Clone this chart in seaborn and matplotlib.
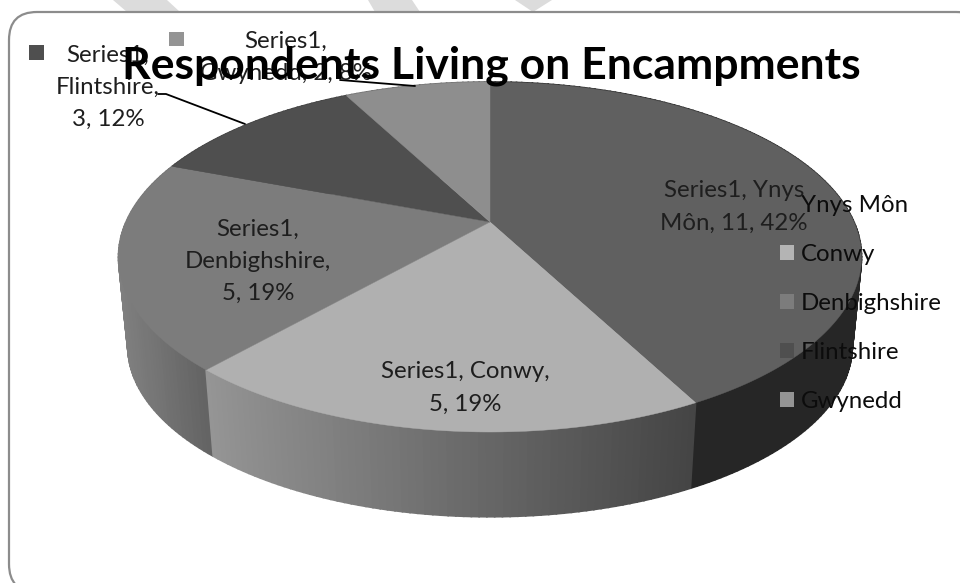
import numpy as np
import matplotlib
matplotlib.use('Agg')
import matplotlib.pyplot as plt
import seaborn as sns
from matplotlib.colors import to_rgb
from matplotlib.patches import FancyBboxPatch, Patch

counties = ['Ynys Môn', 'Conwy', 'Denbighshire', 'Flintshire', 'Gwynedd']
respondents = [11, 5, 5, 3, 2]
percent_labels = ['42%', '19%', '19%', '12%', '8%']
series_name = 'Series1'
title = 'Respondents Living on Encampments'

top_colours = ['#606060', '#b0b0b0', '#7c7c7c', '#4f4f4f', '#8e8e8e']
legend_colours = ['#606060', '#b4b4b4', '#7c7c7c', '#4f4f4f', '#949494']
wall_left = ['#262626', '#959595', '#808080', '#404040', '#6a6a6a']
wall_right = ['#262626', '#444444', '#636363', '#404040', '#6a6a6a']

CX, CY = 490, 222
TEXT = '#1e1e1e'
FONT_SIZE = 17.3

sns.set_theme(style='white')
plt.rcParams['font.family'] = ['Lato', 'DejaVu Sans']


def project(theta, scale=1.0, drop=0.0):
    # pie angle (deg) to pixels, the disc is tilted with some perspective
    rad = np.radians(theta)
    d = 1 + 0.2 * np.sin(rad)
    x = CX + scale * 364 * np.cos(rad) / d
    y = CY - scale * 168 * np.sin(rad) / d + drop
    return x, y


fig, ax = plt.subplots(figsize=(9.6, 5.83), dpi=100)
fig.subplots_adjust(0, 0, 1, 1)

# the library works out the slice angles from the counts
wedges, _ = ax.pie(respondents, startangle=90, counterclock=False, colors=top_colours)
angles = [(w.theta1, w.theta2) for w in wedges]
for w in wedges:
    w.remove()

ax.set_aspect('auto')
ax.set_xlim(0, 960)
ax.set_ylim(583, 0)
ax.axis('off')

# scraps of the page watermark above the frame
ax.fill([113, 167, 180, 127], [0, 0, 12, 12], color='#dcdcdc', lw=0, zorder=1)
ax.fill([368, 412, 420, 375], [0, 0, 12, 12], color='#dcdcdc', lw=0, zorder=1)
ax.fill([515, 552, 533], [0, 0, 12], color='#dcdcdc', lw=0, zorder=1)

ax.add_patch(FancyBboxPatch((9, 12), 975, 580, boxstyle='round,pad=0,rounding_size=28',
                            fc='white', ec='#8c8c8c', lw=1.6, zorder=1.5))

# side wall, back strips first so the front ones end up on top
strips = []
for i, (a, b) in enumerate(angles):
    ts = np.linspace(a, b, max(int(b - a), 2) + 1)
    x_all = project(ts)[0]
    for t0, t1 in zip(ts[:-1], ts[1:]):
        x0, y0 = project(t0)
        x1, y1 = project(t1)
        x2, y2 = project(t1, 0.975, 90)
        x3, y3 = project(t0, 0.975, 90)
        f = ((x0 + x1) / 2 - x_all.min()) / max(x_all.max() - x_all.min(), 1)
        col = (1 - f) * np.array(to_rgb(wall_left[i])) + f * np.array(to_rgb(wall_right[i]))
        strips.append(((y0 + y1) / 2, [x0, x1, x2, x3], [y0, y1, y2, y3], col))
for _, xs, ys, col in sorted(strips, key=lambda s: s[0]):
    ax.fill(xs, ys, color=col, lw=1.2, zorder=2)

for (a, b), col in zip(angles, top_colours):
    ts = np.linspace(a, b, 200)
    x, y = project(ts)
    ax.fill(np.r_[CX, x], np.r_[CY, y], color=col, lw=0.3, zorder=3)

label_xy = [(734, 207), (465, 388), (258, 261), (108, 87), (286, 57)]
label_text = [
    f'{series_name}, Ynys\nMôn, {respondents[0]}, {percent_labels[0]}',
    f'{series_name}, {counties[1]},\n{respondents[1]}, {percent_labels[1]}',
    f'{series_name},\n{counties[2]},\n{respondents[2]}, {percent_labels[2]}',
    f'{series_name},\n{counties[3]},\n{respondents[3]}, {percent_labels[3]}',
    f'{series_name},\n{counties[4]}, {respondents[4]}, {percent_labels[4]}',
]
for (x, y), s in zip(label_xy, label_text):
    ax.text(x, y, s, ha='center', va='center', fontsize=FONT_SIZE, color=TEXT,
            linespacing=1.65, zorder=5)

# leader lines and the keys next to the two outside labels
ax.plot([158, 166, 245], [94, 94, 124], color='black', lw=1.3, zorder=4)
ax.plot([340, 415], [80, 86], color='black', lw=1.3, zorder=4)
ax.fill([29, 44, 44, 29], [45, 45, 60, 60], color=top_colours[3], lw=0, zorder=4)
ax.fill([169, 184, 184, 169], [32, 32, 46, 46], color=legend_colours[4], lw=0, zorder=4)

handles = [Patch(fc=c, ec='none') for c in legend_colours]
leg = ax.legend(handles, counties, loc='upper left', bbox_to_anchor=(780 / 960, 1 - 195 / 583),
                frameon=False, fontsize=FONT_SIZE, labelcolor='#0c0c0c', handlelength=0.58,
                handleheight=0.58, handletextpad=0.3, labelspacing=1.165, borderpad=0,
                borderaxespad=0)
leg.set_zorder(4.5)

ax.text(491, 78, title, ha='center', va='baseline', fontsize=32, fontweight='bold',
        color='black', zorder=7)

fig.savefig('out.png', dpi=100)
